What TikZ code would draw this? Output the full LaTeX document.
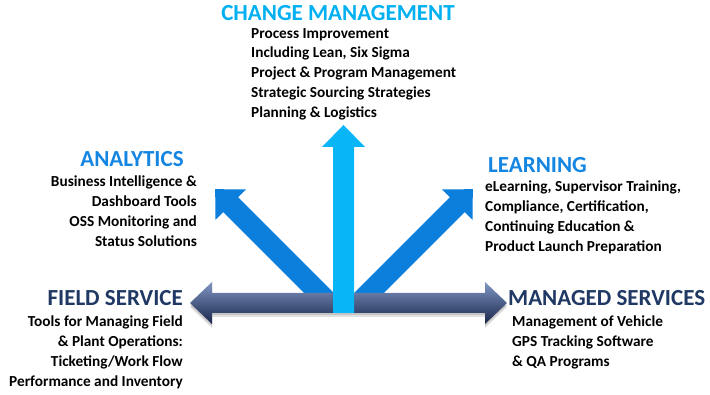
\documentclass[tikz,border=0pt]{standalone}
\usepackage{fontspec}
\setmainfont{Carlito}
\definecolor{cyanarrow}{RGB}{8,182,248}
\definecolor{cyantitle}{RGB}{0,176,240}
\definecolor{diagblue}{RGB}{12,126,220}
\definecolor{bluetitle}{RGB}{20,134,226}
\definecolor{navytitle}{RGB}{31,56,100}
\definecolor{hzlight}{RGB}{128,150,196}
\definecolor{hzmid}{RGB}{72,94,140}
\definecolor{hzdark}{RGB}{24,38,74}
% fleche "grasse" de longueur #1, partant de l'origine vers la droite
\newcommand\armpath[1]{(0,-10.5) -- ({#1-22},-10.5) -- ({#1-22},-21.5) -- (#1,0) -- ({#1-22},21.5) -- ({#1-22},10.5) -- (0,10.5) -- cycle}
\tikzset{
  title/.style={font=\bfseries\fontsize{23}{26}\selectfont, inner sep=0pt},
  list/.style={font=\bfseries\fontsize{15.3}{19.8}\selectfont, inner sep=0pt, text=black},
}
\begin{document}
\begin{tikzpicture}[x=1pt,y=1pt]
  \useasboundingbox (0,0) rectangle (710,395);
  % les deux fleches obliques, derriere
  \fill[diagblue, shift={(329,92)}, rotate=135] \armpath{161};
  \fill[diagblue, shift={(359,92)}, rotate=45] \armpath{161};
  % double fleche horizontale
  \def\hzpath{(190,92) -- (212,113) -- (212,102) -- (485,102) -- (485,113) -- (507,92) -- (485,71) -- (485,82) -- (212,82) -- (212,71) -- cycle}
  \fill[black, opacity=0.12, yshift=-4pt] \hzpath;
  \fill[black, opacity=0.12, yshift=-2pt] \hzpath;
  \shade[top color=hzlight, middle color=hzmid, bottom color=hzdark] \hzpath;
  % fleche verticale
  \fill[cyanarrow, shift={(343.5,82)}, rotate=90] \armpath{188};

  \node[title, text=cyantitle, anchor=base] (changeTitle) at (338,374) {CHANGE MANAGEMENT};
  \node[list, anchor=north west, align=left] (changeList) at (251,367)
    {Process Improvement\\Including Lean, Six Sigma\\Project \& Program Management\\Strategic Sourcing Strategies\\Planning \& Logistics};

  \node[title, text=bluetitle, anchor=base] (analyticsTitle) at (132,228) {ANALYTICS};
  \node[list, anchor=north east, align=right] (analyticsList) at (197,219)
    {Business Intelligence \&\\Dashboard Tools\\OSS Monitoring and\\Status Solutions};

  \node[title, text=bluetitle, anchor=base west] (learningTitle) at (488,222) {LEARNING};
  \node[list, anchor=north west, align=left] (learningList) at (485,214)
    {eLearning, Supervisor Training,\\Compliance, Certification,\\Continuing Education \&\\Product Launch Preparation};

  \node[title, text=navytitle, anchor=base east] (fieldTitle) at (183,89) {FIELD SERVICE};
  \node[list, anchor=north east, align=right] (fieldList) at (183,79)
    {Tools for Managing Field\\\& Plant Operations:\\Ticketing/Work Flow\\Performance and Inventory};

  \node[title, text=navytitle, anchor=base west] (managedTitle) at (508,89) {MANAGED SERVICES};
  \node[list, anchor=north west, align=left] (managedList) at (512,79)
    {Management of Vehicle\\GPS Tracking Software\\\& QA Programs};
\end{tikzpicture}
\end{document}
